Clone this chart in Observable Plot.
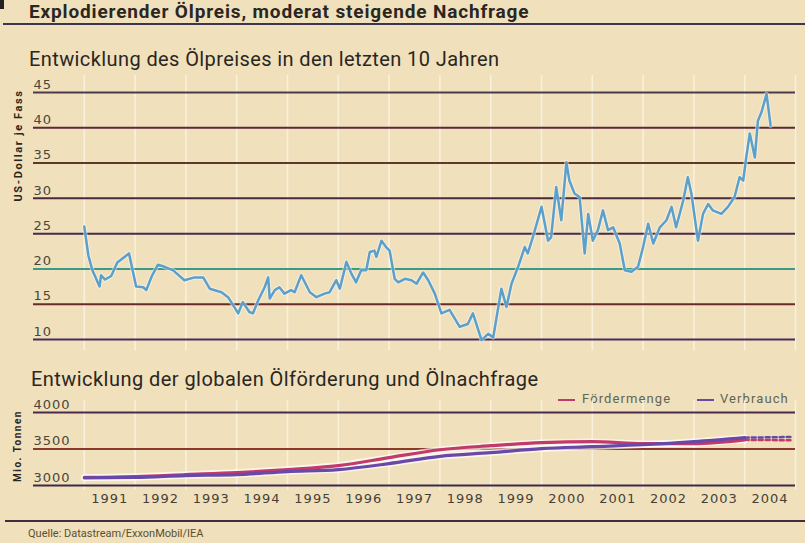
<!DOCTYPE html>
<html><head><meta charset="utf-8">
<script src="https://cdn.jsdelivr.net/npm/d3@7"></script>
<script src="https://cdn.jsdelivr.net/npm/@observablehq/plot@0.6"></script>
<style>
body{margin:0;background:#f0e0bc;}
#wrap{position:relative;width:805px;height:543px;overflow:hidden;background:#f0e0bc;font-family:Roboto,sans-serif;color:#2e2a26;}
.abs{position:absolute;white-space:nowrap;line-height:1;}
.plotbox{position:absolute;left:0;}
.plotbox svg text{letter-spacing:1px;}
</style></head><body><div id="wrap">
<div class="abs" style="left:0;top:0;width:4px;height:9px;background:#222;"></div>
<div class="abs" style="left:29px;top:2px;font-size:19px;font-weight:bold;letter-spacing:0.85px;color:#2a2622;">Explodierender Ölpreis, moderat steigende Nachfrage</div>
<div class="abs" style="left:3px;top:23px;width:802px;height:2px;background:#3a3550;"></div>
<div class="abs" style="left:29px;top:49px;font-size:20px;letter-spacing:0.4px;color:#2a2622;">Entwicklung des Ölpreises in den letzten 10 Jahren</div>
<div class="abs" style="left:-47px;top:140px;width:130px;text-align:center;font-size:11px;font-weight:bold;letter-spacing:1.6px;transform:rotate(-90deg);color:#2a2622;">US-Dollar je Fass</div>
<div id="topPlot" class="plotbox" style="top:70px;"></div>
<div class="abs" style="left:31px;top:369px;font-size:20px;letter-spacing:0.45px;color:#2a2622;">Entwicklung der globalen Ölförderung und Ölnachfrage</div>
<div class="abs" style="left:-22px;top:441px;width:80px;text-align:center;font-size:10px;font-weight:bold;letter-spacing:1.5px;transform:rotate(-90deg);color:#2a2622;">Mio. Tonnen</div>
<div class="abs" style="left:558px;top:392px;font-size:13px;letter-spacing:1.1px;color:#5f6652;"><span style="display:inline-block;width:17px;height:2px;background:#c23a6a;vertical-align:middle;margin-right:7px;"></span>Fördermenge</div>
<div class="abs" style="left:697px;top:392px;font-size:13px;letter-spacing:1.1px;color:#5f6652;"><span style="display:inline-block;width:17px;height:2px;background:#6a48a8;vertical-align:middle;margin-right:6px;"></span>Verbrauch</div>
<div id="botPlot" class="plotbox" style="top:395px;"></div>
<div class="abs" style="left:5px;top:520px;width:800px;height:2px;background:#4a2a40;"></div>
<div class="abs" style="left:28px;top:528px;font-size:11px;color:#5a5030;">Quelle: Datastream/ExxonMobil/IEA</div>
</div>
<script>
// ---- data ----
const priceDate = [1991.00,1991.08,1991.16,1991.30,1991.33,1991.41,1991.53,1991.65,1991.88,1992.02,1992.16,1992.22,1992.33,1992.45,1992.58,1992.75,1992.97,1993.17,1993.34,1993.47,1993.70,1993.83,1994.03,1994.12,1994.25,1994.32,1994.42,1994.55,1994.62,1994.65,1994.75,1994.84,1994.94,1995.07,1995.14,1995.27,1995.44,1995.57,1995.73,1995.83,1995.96,1996.03,1996.16,1996.26,1996.35,1996.45,1996.55,1996.62,1996.71,1996.75,1996.85,1996.94,1997.01,1997.11,1997.18,1997.31,1997.44,1997.54,1997.67,1997.77,1997.90,1998.03,1998.19,1998.39,1998.55,1998.65,1998.82,1998.95,1999.05,1999.21,1999.31,1999.41,1999.54,1999.67,1999.73,1999.83,2000.00,2000.13,2000.19,2000.29,2000.39,2000.49,2000.55,2000.65,2000.75,2000.85,2000.92,2001.01,2001.11,2001.21,2001.31,2001.41,2001.54,2001.64,2001.77,2001.90,2002.00,2002.10,2002.20,2002.33,2002.46,2002.56,2002.65,2002.79,2002.88,2002.95,2003.08,2003.18,2003.28,2003.37,2003.54,2003.67,2003.80,2003.90,2003.97,2004.03,2004.10,2004.20,2004.26,2004.33,2004.43,2004.51];
const priceUsd = [26.0,21.9,19.8,17.5,19.1,18.5,19.0,20.9,22.2,17.5,17.4,17.0,19.0,20.6,20.3,19.8,18.4,18.8,18.8,17.2,16.7,16.0,13.7,15.3,13.9,13.7,15.5,17.4,18.8,15.8,17.0,17.4,16.5,17.0,16.7,19.1,16.7,16.0,16.5,16.7,18.4,17.2,21.0,19.3,18.1,19.8,19.8,22.4,22.6,21.7,24.0,23.1,22.6,18.6,18.1,18.6,18.4,17.9,19.5,18.4,16.5,13.7,14.2,11.8,12.2,13.7,9.9,10.8,10.3,17.2,14.6,17.9,20.3,23.1,22.2,24.5,28.8,24.0,24.5,31.6,26.9,35.1,32.5,30.7,30.2,22.2,27.8,24.0,25.5,28.3,25.5,25.9,23.6,19.8,19.6,20.3,23.1,26.4,23.6,25.9,26.9,28.8,25.9,29.7,33.0,30.7,24.0,27.8,29.2,28.3,27.8,28.8,30.2,33.0,32.5,35.8,39.2,35.8,41.0,42.2,44.8,40.3];
const priceTicks = [10, 15, 20, 25, 30, 35, 40, 45];

const volYear = [1991,1992,1993,1994,1995,1996,1997,1998,1999,2000,2001,2002,2003,2004];
const production = [3110,3123,3150,3177,3218,3273,3382,3490,3545,3587,3600,3573,3573,3625];
const consumption = [3105,3110,3136,3150,3190,3218,3300,3400,3450,3505,3532,3559,3600,3655];
const estYear = [2004.0, 2004.9];
const productionEst = [3625, 3620];
const consumptionEst = [3655, 3665];
const tonTicks = [3000, 3500, 4000];
const yearLabels = [1991,1992,1993,1994,1995,1996,1997,1998,1999,2000,2001,2002,2003,2004];

// ---- styles ----
const topGridColors = ["#4a2a5a","#6a2a2a","#3a9a86","#4a2a4a","#4a2a3a","#5a3a2a","#5a2a3a","#4a3a4a"];
const botGridColors = ["#3a2a4a","#8a3a2a","#4a2a4a"];
const edges = d3.range(1991, 2006);
const tickFont = {fontFamily: "DejaVu Sans", fontSize: 13, fill: "#4b463a"};

const priceRows = priceDate.map((t, i) => ({t, v: priceUsd[i]}));
const volRows = volYear.flatMap((t, i) => [
  {t, v: production[i], s: "Fördermenge"},
  {t, v: consumption[i], s: "Verbrauch"}
]);
const estRows = estYear.flatMap((t, i) => [
  {t, v: productionEst[i], s: "Fördermenge"},
  {t, v: consumptionEst[i], s: "Verbrauch"}
]);
const seriesColor = {"Fördermenge": "#c23a6a", "Verbrauch": "#6a48a8"};

const topChart = Plot.plot({
  width: 805, height: 285,
  marginLeft: 33, marginRight: 10, marginTop: 22, marginBottom: 16,
  x: {domain: [1990, 2005], axis: null},
  y: {domain: [10, 45], axis: null},
  color: {type: "identity"},
  style: {background: "transparent", overflow: "visible"},
  marks: [
    Plot.ruleX(edges, {x: d => d, y1: 8.4, y2: 47.4, stroke: "#f9f1dc", strokeWidth: 1.6}),
    Plot.ruleY(priceTicks, {y: d => d, stroke: (d, i) => topGridColors[i], strokeWidth: 2}),
    Plot.text(priceTicks, {x: 1990, y: d => d, text: d => String(d), textAnchor: "start", dy: -8, ...tickFont}),
    Plot.line(priceRows, {x: "t", y: "v", stroke: "#ffffff", strokeOpacity: 0.45, strokeWidth: 4.5}),
    Plot.line(priceRows, {x: "t", y: "v", stroke: "#5b9fcb", strokeWidth: 2.5})
  ]
});
document.getElementById("topPlot").appendChild(topChart);

const botChart = Plot.plot({
  width: 805, height: 115,
  marginLeft: 33, marginRight: 10, marginTop: 17, marginBottom: 25,
  x: {domain: [1990, 2005], axis: null},
  y: {domain: [3000, 4000], axis: null},
  color: {type: "identity"},
  style: {background: "transparent", overflow: "visible"},
  marks: [
    Plot.ruleX(edges, {x: d => d, y1: 2935, y2: 4160, stroke: "#f9f1dc", strokeWidth: 1.6}),
    Plot.ruleY(tonTicks, {y: d => d, stroke: (d, i) => botGridColors[i], strokeWidth: 2}),
    Plot.text(tonTicks, {x: 1990, y: d => d, text: d => String(d), textAnchor: "start", dy: -8, ...tickFont}),
    Plot.text(yearLabels, {x: d => d + 0.5, y: 3000, text: d => String(d), dy: 13, ...tickFont, fill: "#45413a"}),
    Plot.line(volRows, {x: "t", y: "v", z: "s", stroke: "#ffffff", strokeOpacity: 0.7, strokeWidth: 6.5}),
    Plot.line(volRows, {x: "t", y: "v", z: "s", stroke: d => seriesColor[d.s], strokeWidth: 3.2, curve: "monotone-x"}),
    Plot.line(estRows, {x: "t", y: "v", z: "s", stroke: d => seriesColor[d.s], strokeWidth: 2.5, strokeDasharray: "4,3"})
  ]
});
document.getElementById("botPlot").appendChild(botChart);
</script>
</body></html>
